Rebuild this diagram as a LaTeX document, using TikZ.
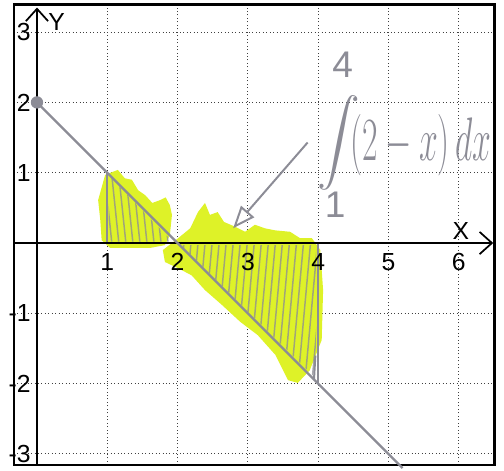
\documentclass[tikz,border=0pt]{standalone}
\usepackage{amsmath,graphicx}
\usepackage{fontspec}
\setmainfont{Liberation Sans}
\usetikzlibrary{positioning}
\usetikzlibrary{arrows.meta}

\definecolor{hilite}{RGB}{222,242,40}
\definecolor{pencil}{RGB}{140,140,150}

\begin{document}
\begin{tikzpicture}[
    gridline/.style={densely dotted, black!75, line width=0.4pt},
    axisline/.style={black, line width=0.7pt, -{Straight Barb[length=5pt,width=9pt]}},
    ticklabel/.style={font=\fontsize{10}{12}\selectfont, inner sep=1pt},
    handwrite/.style={pencil, line width=0.8pt},
    hatch/.style={pencil, line width=0.6pt, opacity=0.75}
  ]
  \useasboundingbox (-0.526,-3.229) rectangle (6.643,3.457);

  % Grid
  \foreach \gx in {1,...,6}
    \draw[gridline] (\gx,-3.16) -- (\gx,3.39);
  \foreach \gy in {-3,...,3}
    \draw[gridline] (-0.33,\gy) -- (6.51,\gy);

  % Highlighted area
  \fill[hilite] (0.87,0.61) -- (0.97,0.97) -- (1.15,1.04) -- (1.25,0.92) -- (1.35,0.90)
    -- (1.44,0.75) -- (1.54,0.68) -- (1.64,0.57) -- (1.75,0.61) -- (1.83,0.65)
    -- (1.89,0.54) -- (1.92,0.40) -- (1.89,0.11) -- (1.82,-0.03) -- (1.61,-0.07)
    -- (1.04,-0.07) -- (0.92,0.04) -- (0.90,0.33) -- cycle;
  \fill[hilite] (1.82,-0.27) -- (1.79,-0.10) -- (2.01,0.07) -- (2.18,0.21) -- (2.29,0.44)
    -- (2.39,0.57) -- (2.46,0.40) -- (2.57,0.44) -- (2.66,0.30) -- (2.80,0.24)
    -- (2.96,0.16) -- (3.10,0.26) -- (3.24,0.21) -- (3.39,0.18) -- (3.60,0.16)
    -- (3.74,0.07) -- (3.91,0.07) -- (4.03,-0.10) -- (4.07,-0.67) -- (4.05,-1.38)
    -- (3.88,-1.81) -- (3.71,-1.99) -- (3.57,-1.95) -- (3.39,-1.59) -- (3.14,-1.31)
    -- (2.89,-1.12) -- (2.63,-0.88) -- (2.39,-0.67) -- (2.20,-0.46) -- (2.01,-0.36) -- cycle;

  % Pencil hatching
  \begin{scope}
    \clip (1.02,0.02) -- (1.02,0.96) -- (1.93,0.02) -- cycle;
    \foreach \hx in {0.95,1.05,...,1.95}
      \draw[hatch] (\hx,1.1) -- (\hx+0.12,-0.05);
  \end{scope}
  \begin{scope}
    \clip (2.05,-0.03) -- (3.97,-0.03) -- (3.97,-1.93) -- cycle;
    \foreach \hx in {1.9,2.0,...,4.0}
      \draw[hatch] (\hx,-2.1) -- (\hx+0.2,0.1);
  \end{scope}
  \draw[handwrite] (1,0) -- (1,1);
  \draw[handwrite] (4,0) -- (4,-2);
  \draw[handwrite] (3.94,-1.95) -- (3.96,-1.6);

  % Frame
  \draw[black, line width=1pt] (-0.33,-3.16) rectangle (6.51,3.39);

  % Axes
  \coordinate (xstart) at (-0.33,0);
  \coordinate (xend) at (6.49,0);
  \coordinate (ystart) at (0,-3.16);
  \coordinate (yend) at (0,3.35);
  \draw[axisline] (xstart) -- (xend);
  \draw[axisline] (ystart) -- (yend);
  \node[ticklabel] (xlabel) at (6.03,0.17) {X};
  \node[ticklabel] (ylabel) at (0.28,3.14) {Y};

  % Tick labels
  \foreach \gx in {1,...,6}
    \node[ticklabel] (xtick\gx) at (\gx,-0.27) {\gx};
  \foreach \gy in {-3,-2,-1,1,2,3}
    \node[ticklabel, anchor=east] (ytick\gy) at (-0.05,\gy) {\gy};

  % y = 2 - x
  \node[circle, fill=pencil, inner sep=0pt, minimum size=5pt] (startdot) at (0,2) {};
  \coordinate (lineend) at (5.2,-3.2);
  \draw[pencil, line width=0.9pt] (startdot.center) -- (lineend);

  % Integral
  \node[pencil, inner sep=0pt] (intsign) at (4.3,1.42)
    {\fontsize{16}{18}\selectfont$\displaystyle\int$};
  \node[pencil, font=\fontsize{15}{17}\selectfont] (upper) at (4.35,2.53) {4};
  \node[pencil, font=\fontsize{15}{17}\selectfont] (lower) at (4.24,0.54) {1};
  \node[pencil, inner sep=0pt] (integrand) at (5.46,1.39)
    {\scalebox{0.55}[1]{\fontsize{28}{30}\selectfont$\left(2-x\right)dx$}};

  % Arrow
  \coordinate (arrowtail) at (3.85,1.43);
  \coordinate (arrowtip) at (2.79,0.21);
  \draw[handwrite, -{Triangle[open,length=9pt,width=7pt]}] (arrowtail) -- (arrowtip);
\end{tikzpicture}
\end{document}
